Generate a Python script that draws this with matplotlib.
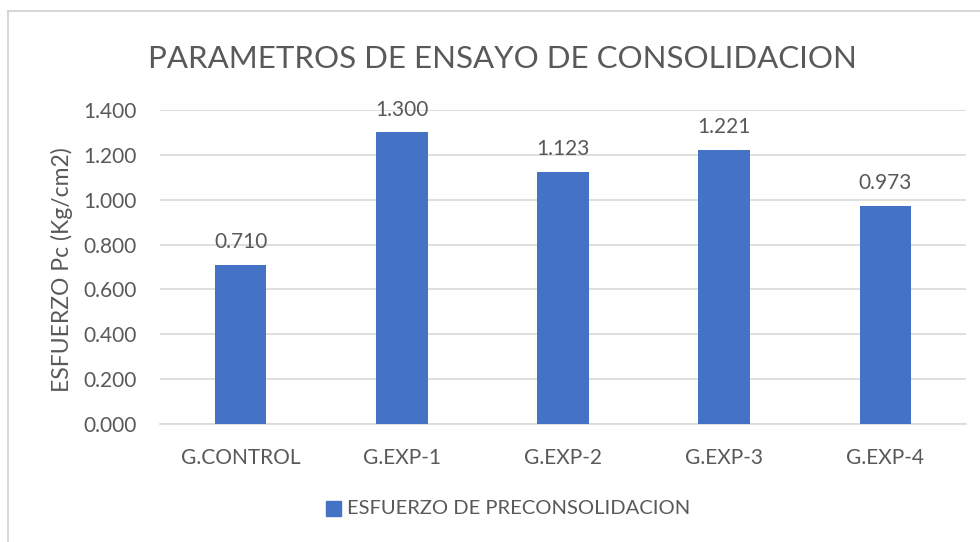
import matplotlib
matplotlib.use("Agg")
import matplotlib.pyplot as plt
from matplotlib.patches import Rectangle
from matplotlib.lines import Line2D

categories = ["G.CONTROL", "G.EXP-1", "G.EXP-2", "G.EXP-3", "G.EXP-4"]
values = [0.710, 1.300, 1.123, 1.221, 0.973]
yticks = [0.0, 0.2, 0.4, 0.6, 0.8, 1.0, 1.2, 1.4]
series_name = "ESFUERZO DE PRECONSOLIDACION"
title = "PARAMETROS DE ENSAYO DE CONSOLIDACION"
ylabel = "ESFUERZO Pc (Kg/cm2)"

plt.rcParams['font.family'] = ['Lato', 'DejaVu Sans']
W, H = 980, 542
fig = plt.figure(figsize=(W/100, H/100), dpi=100)
txt = "#595959"
bar_color = "#4472C4"
grid_color = "#D9D9D9"

# chart frame
fig.add_artist(Line2D([8/W, 8/W], [0, 1 - 11/H], color="#D0D0D0", lw=1.2, transform=fig.transFigure))
fig.add_artist(Line2D([8/W, 1], [1 - 11/H, 1 - 11/H], color="#D0D0D0", lw=1.2, transform=fig.transFigure))

ax = fig.add_axes([160/W, (H-424)/H, (966-160)/W, (424-110)/H])
x = list(range(len(categories)))
ax.bar(x, values, width=0.32, color=bar_color, zorder=3)
ax.set_xlim(-0.5, len(categories) - 0.5)
ax.set_ylim(0, 1.4)
ax.set_yticks(yticks)
ax.set_yticklabels([f"{v:.3f}" for v in yticks])
ax.set_xticks(x)
ax.set_xticklabels(categories)
ax.yaxis.grid(True, color=grid_color, lw=1.2, zorder=0)
for s in ["top", "right", "left"]:
    ax.spines[s].set_visible(False)
ax.spines["bottom"].set_color(grid_color)
ax.spines["bottom"].set_linewidth(1.2)
ax.tick_params(axis="both", length=0, colors=txt, labelsize=15)
ax.tick_params(axis="y", pad=16.5)
ax.tick_params(axis="x", pad=17)
for xi, v in zip(x, values):
    ax.annotate(f"{v:.3f}", (xi, v), xytext=(0, 16.5), textcoords="offset points",
                ha="center", va="center", fontsize=15, color=txt)

fig.text(62/W, 1 - 270/H, ylabel, rotation=90, ha="center", va="center", fontsize=16.5, color=txt)
fig.text(502/W, 1 - 59/H, title, ha="center", va="center", fontsize=22.5, color=txt)

# legend
fig.add_artist(Rectangle((326/W, 1 - 516/H), 15/W, 15/H, color=bar_color, transform=fig.transFigure))
fig.text(347/W, 1 - 509/H, series_name, ha="left", va="center", fontsize=14.5, color=txt)

fig.savefig("out.png", dpi=100, facecolor="white")
